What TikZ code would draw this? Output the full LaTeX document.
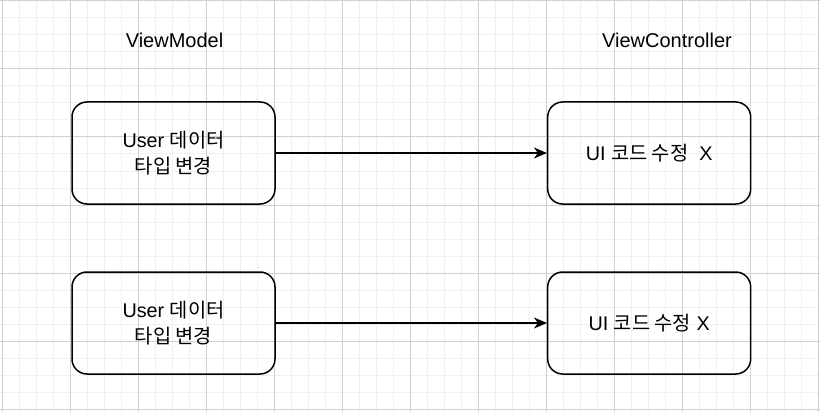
\documentclass[tikz,border=0pt]{standalone}
\usepackage{fontspec}
\setmainfont{Liberation Sans}
\newfontfamily\kr{Noto Sans CJK KR}
\usetikzlibrary{arrows.meta}
\definecolor{minorgrid}{HTML}{F0F0F0}
\definecolor{majorgrid}{HTML}{D0D0D0}
\tikzset{
  box/.style={draw=black, line width=1.5pt, rounded corners=15pt, minimum width=203pt, minimum height=102pt, inner sep=0pt, align=center, font=\fontsize{19.8}{26}\selectfont},
  title/.style={font=\fontsize{20}{24}\selectfont, inner sep=0pt},
  conn/.style={line width=1.5pt, -{Stealth[length=13pt,width=11pt,inset=4pt]}}
}
\begin{document}
\begin{tikzpicture}[x=1pt,y=-1pt]
\useasboundingbox (0,0) rectangle (820,412);
\fill[white] (0,0) rectangle (820,412);
% minor grid
\foreach \k in {0,...,48} {
  \draw[minorgrid, line width=1pt] (2.7+17*\k,0) -- (2.7+17*\k,412);
}
\foreach \k in {0,...,24} {
  \draw[minorgrid, line width=1pt] (0,0.5+17.05*\k) -- (820,0.5+17.05*\k);
}
% major grid
\foreach \k in {0,...,12} {
  \draw[majorgrid, line width=1pt] (2.7+68*\k,0) -- (2.7+68*\k,412);
}
\foreach \k in {0,...,6} {
  \draw[majorgrid, line width=1pt] (0,0.5+68.2*\k) -- (820,0.5+68.2*\k);
}
\node[title] (vm) at (174.5,40) {ViewModel};
\node[title] (vc) at (667,40) {ViewController};
\node[box] (a1) at (173.5,153) {User {\kr 데이터}\\{\kr 타입 변경}};
\node[box] (b1) at (649.2,153) {UI {\kr 코드 수정}\ \ X};
\node[box] (a2) at (173.5,323) {User {\kr 데이터}\\{\kr 타입 변경}};
\node[box] (b2) at (649.2,323) {UI {\kr 코드 수정} X};
\draw[conn] (a1) -- (b1);
\draw[conn] (a2) -- (b2);
\end{tikzpicture}
\end{document}
